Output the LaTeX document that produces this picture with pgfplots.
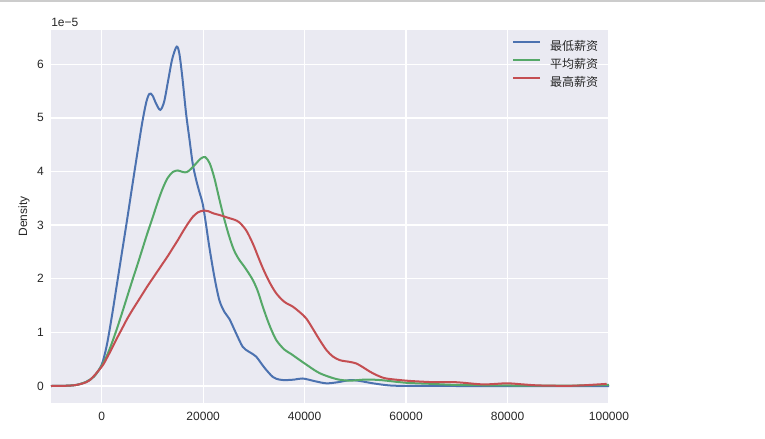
\documentclass[border=0pt]{standalone}
\usepackage{pgfplots}
\pgfplotsset{compat=1.18}
\usepackage{fontspec}
\setmainfont{Liberation Sans}
\newfontfamily\cjk{Noto Sans CJK SC}
\definecolor{sbbg}{HTML}{EAEAF2}
\definecolor{sbblue}{HTML}{4C72B0}
\definecolor{sbgreen}{HTML}{55A868}
\definecolor{sbred}{HTML}{C44E52}
\definecolor{sbtext}{HTML}{262626}
\begin{document}
\begin{tikzpicture}
\useasboundingbox (0,0) rectangle (573.75pt,329.25pt);
\draw[color=black!20, line width=1.2pt] (0,328.4pt) -- (573.75pt,328.4pt);
\begin{axis}[
  at={(38.25pt,27pt)}, anchor=south west,
  scale only axis, width=418.5pt, height=279.75pt,
  xmin=-10000, xmax=100000, ymin=-0.317, ymax=6.64,
  clip=false,
  axis background/.style={fill=sbbg},
  axis line style={draw=none},
  major tick length=0pt,
  grid=major, grid style={white, line width=1pt},
  xtick={0,20000,40000,60000,80000,100000},
  ytick={0,1,2,3,4,5,6},
  scaled ticks=false,
  /pgf/number format/fixed,
  /pgf/number format/precision=0,
  /pgf/number format/1000 sep={},
  /pgf/number format/assume math mode=true,
  tick label style={font=\fontsize{9}{11}\selectfont, text=sbtext},
  xticklabel style={inner sep=0pt, yshift=-7pt},
  yticklabel style={inner sep=0pt, xshift=-5.25pt},
  ylabel={Density},
  every axis y label/.style={at={(axis cs:-15320,3.16)}, rotate=90, anchor=center, font=\fontsize{9}{11}\selectfont, text=sbtext},
  legend style={draw=none, fill=none, at={(0.826,0.9706)}, anchor=north west,
    inner sep=0pt, row sep=5.5pt, column sep=7pt,
    nodes={inner sep=0pt, text height=7pt, text depth=1pt},
    font=\cjk\fontsize{9}{11}\selectfont, text=sbtext},
  legend cell align=left,
  legend image code/.code={\draw[#1] (0pt,3.2pt) -- (20pt,3.2pt);},
  every axis plot/.append style={line width=1.5pt, smooth, tension=0.5},
]
\addplot[sbblue] coordinates {
(-10000,0) (-7500,0.003) (-5000,0.02) (-3000,0.08) (-1500,0.18) (0,0.40)
(1000,0.76) (2000,1.3) (3000,1.9) (4000,2.5) (5000,3.1) (6000,3.72)
(7000,4.33) (8000,4.92) (8800,5.3) (9400,5.45) (10000,5.42) (10800,5.25)
(11550,5.15) (12300,5.3) (13100,5.7) (13900,6.1) (14770,6.33)
(15300,6.2) (15900,5.75) (16620,5.09) (17300,4.6) (17930,4.15) (18600,3.85)
(19250,3.62) (19900,3.4) (20500,3.05) (21200,2.6) (22200,2.04) (23190,1.6)
(24200,1.38) (25170,1.25) (26500,0.98) (27800,0.73) (29000,0.64)
(30430,0.55) (32000,0.35) (33720,0.17) (35000,0.12) (36360,0.11) (38000,0.12)
(39640,0.14) (42000,0.09) (44260,0.05) (46500,0.07) (48870,0.11) (50500,0.10)
(53470,0.05) (56770,0.01) (60000,0.003) (70000,0.0) (80000,0.0) (90000,0.0) (100000,0.0)
};
\addlegendentry{最低薪资}
\addplot[sbgreen] coordinates {
(-10000,0) (-7500,0.003) (-5000,0.02) (-3000,0.08) (-1500,0.18) (0,0.38)
(1000,0.56) (2000,0.8) (3000,1.07) (4000,1.36) (5000,1.66) (6000,1.96)
(7000,2.25) (8000,2.55) (9000,2.85) (10000,3.13) (11000,3.42) (12000,3.68)
(13000,3.88) (14000,3.99) (15000,4.02) (16000,3.99) (16800,3.99) (17600,4.05)
(18600,4.15) (19500,4.24) (20400,4.27) (21300,4.15) (22200,3.88)
(23100,3.52) (24000,3.17) (25000,2.83) (26000,2.55) (27000,2.37) (28300,2.2)
(29770,1.98) (30800,1.76) (31750,1.48) (33000,1.15) (34390,0.86) (36000,0.68)
(37300,0.6) (38340,0.53) (40320,0.4) (42950,0.24) (46240,0.13) (48870,0.1)
(52000,0.12) (55000,0.11) (60000,0.06) (65000,0.04) (70000,0.02) (80000,0.01)
(90000,0.005) (100000,0.02)
};
\addlegendentry{平均薪资}
\addplot[sbred] coordinates {
(-10000,0) (-7500,0.003) (-5000,0.02) (-2500,0.1) (0,0.36) (1000,0.52)
(2000,0.7) (3000,0.89) (4000,1.07) (5000,1.25) (6000,1.41) (7000,1.56)
(8000,1.71) (9000,1.86) (10000,2.0) (11000,2.14) (12000,2.28) (13000,2.42)
(14000,2.57) (15000,2.72) (16000,2.88) (17000,3.03) (18000,3.16) (19000,3.24)
(20000,3.27) (21000,3.26) (22000,3.22) (23190,3.19) (24200,3.16) (25170,3.13)
(26200,3.1) (27150,3.05) (28500,2.9) (29770,2.66) (30800,2.42) (31750,2.2)
(33000,1.95) (34390,1.73) (36000,1.57) (37670,1.48) (39000,1.38) (40320,1.26)
(41600,1.07) (42950,0.86) (44300,0.67) (45570,0.55) (47000,0.48) (48870,0.45)
(50190,0.42) (51500,0.35) (52830,0.27) (54500,0.19) (56110,0.14) (60000,0.10)
(63340,0.08) (66000,0.07) (69930,0.07) (75200,0.03) (79800,0.05) (83000,0.03)
(86400,0.01) (93000,0.005) (99550,0.04)
};
\addlegendentry{最高薪资}
\node[anchor=south west, inner sep=0pt, font=\fontsize{9}{11}\selectfont, text=sbtext] at ([yshift=2.5pt]rel axis cs:0,1) {1e−5};
\end{axis}
\end{tikzpicture}
\end{document}
